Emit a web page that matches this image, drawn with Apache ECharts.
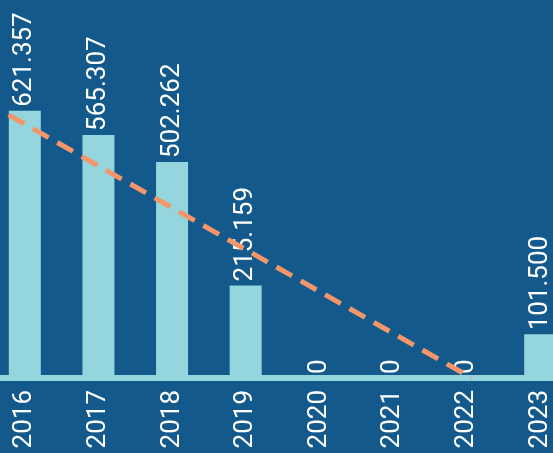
<!DOCTYPE html>
<html>
<head>
<meta charset="utf-8">
<script src="https://cdn.jsdelivr.net/npm/echarts@6/dist/echarts.min.js"></script>
<style>
html,body{margin:0;padding:0;background:#14598b;}
#c{width:553px;height:453px;}
</style>
</head>
<body>
<div id="c"></div>
<script>
const categories = ['2016','2017','2018','2019','2020','2021','2022','2023'];
const values = [621.357, 565.307, 502.262, 215.159, 0, 0, 0, 101.5];
// trend line endpoints: [category position, value]
const trendLine = [[-0.22, 612], [6.07, 0]];

const chart = echarts.init(document.getElementById('c'));
const FONT = 'Roboto, sans-serif';
chart.setOption({
  backgroundColor: '#14598b',
  animation: false,
  grid: { left: -12, width: 589, top: 77, bottom: 75, containLabel: false, outerBoundsMode: 'none' },
  xAxis: [{
    type: 'category',
    data: categories,
    axisLine: { lineStyle: { color: '#94d5de', width: 6 } },
    axisTick: { show: false },
    axisLabel: { color: '#ffffff', rotate: 90, fontSize: 26, fontFamily: FONT, margin: 12 }
  }, {
    type: 'value',
    min: -0.5, max: 7.5,
    show: false
  }],
  yAxis: { type: 'value', min: 0, max: 700, show: false, splitLine: { show: false } },
  series: [{
    type: 'bar',
    data: values,
    barWidth: 32,
    itemStyle: { color: '#94d5de' },
    label: {
      show: true, position: 'top', rotate: 90, align: 'left', verticalAlign: 'middle',
      distance: 4, color: '#ffffff', fontSize: 26, fontFamily: FONT,
      formatter: p => p.value === 0 ? '0' : p.value.toFixed(3)
    }
  }, {
    type: 'line',
    xAxisIndex: 1,
    data: trendLine,
    symbol: 'none',
    lineStyle: { color: '#f4956a', width: 5, type: [18, 10] },
    z: 5
  }]
});
</script>
</body>
</html>
